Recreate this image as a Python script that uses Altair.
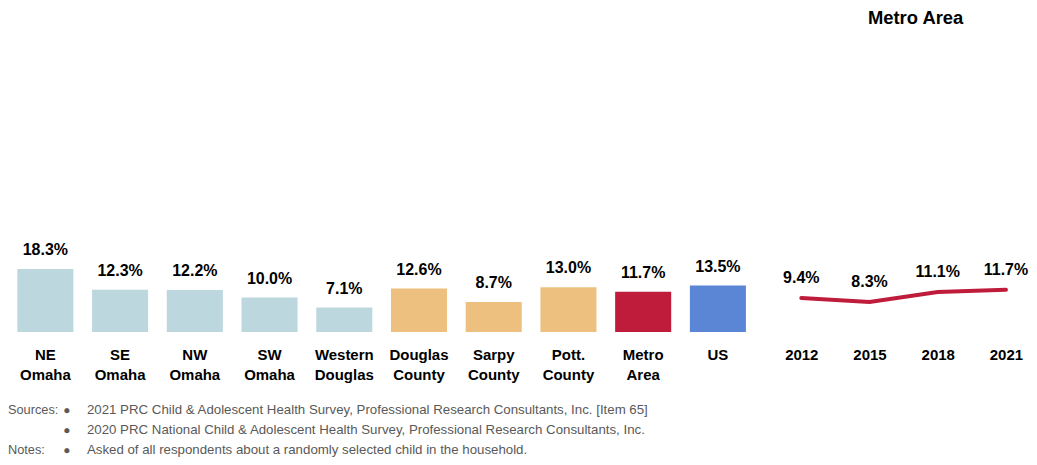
import altair as alt
import pandas as pd

FONT = "Liberation Sans, Arial, sans-serif"

# ---- data ----
categories = ["NE Omaha", "SE Omaha", "NW Omaha", "SW Omaha", "Western Douglas",
              "Douglas County", "Sarpy County", "Pott. County", "Metro Area", "US"]
values = [18.3, 12.3, 12.2, 10.0, 7.1, 12.6, 8.7, 13.0, 11.7, 13.5]
groups = ["Area", "Area", "Area", "Area", "Area", "County", "County", "County", "Metro", "US"]
group_names = ["Area", "County", "Metro", "US"]
group_colors = ["#BDD7DE", "#EDC080", "#BE1C3A", "#5B86D6"]

years = ["2012", "2015", "2018", "2021"]
trend = [9.4, 8.3, 11.1, 11.7]
trend_title = "Metro Area"

note_labels = ["Sources:", "", "Notes:"]
note_texts = [
    "2021 PRC Child & Adolescent Health Survey, Professional Research Consultants, Inc. [Item 65]",
    "2020 PRC National Child & Adolescent Health Survey, Professional Research Consultants, Inc.",
    "Asked of all respondents about a randomly selected child in the household.",
]

bars_df = pd.DataFrame({"category": categories, "value": values, "group": groups})
line_df = pd.DataFrame({"year": years, "value": trend})
notes_df = pd.DataFrame({"row": list(range(len(note_texts))), "label": note_labels,
                         "text": note_texts, "bullet": ["●"] * len(note_texts)})

PLOT_H = 280
BAR_PX_PER_PCT = 3.44
LINE_PX_PER_PCT = 3.6

axis_style = dict(labelAngle=0, ticks=False, domain=False, grid=False, title=None,
                  labelFont=FONT, labelFontSize=15, labelFontWeight="bold",
                  labelColor="black", labelPadding=16, labelLineHeight=20,
                  labelBaseline="top")

# ---- bars ----
bbase = alt.Chart(bars_df).transform_calculate(
    lbl="format(datum.value, '.1f') + '%'"
)
bx = alt.X("category:N", sort=categories,
           scale=alt.Scale(paddingInner=0.25, paddingOuter=0.125),
           axis=alt.Axis(labelExpr="split(datum.label, ' ')", **axis_style))
by = alt.Y("value:Q", scale=alt.Scale(domain=[0, PLOT_H / BAR_PX_PER_PCT], nice=False),
           axis=None)
bars = bbase.mark_bar().encode(
    x=bx, y=by,
    color=alt.Color("group:N", scale=alt.Scale(domain=group_names, range=group_colors),
                    legend=None),
)
blabels = bbase.mark_text(baseline="bottom", dy=-11, font=FONT, fontSize=16,
                          fontWeight="bold", color="black").encode(
    x=bx, y=by, text="lbl:N")
bar_chart = alt.layer(bars, blabels).properties(width=748, height=PLOT_H)

# ---- trend line ----
lbase = alt.Chart(line_df).transform_calculate(
    lbl="format(datum.value, '.1f') + '%'"
)
lx = alt.X("year:O", sort=years, scale=alt.Scale(type="point", padding=0.25),
           axis=alt.Axis(**axis_style))
ly = alt.Y("value:Q", scale=alt.Scale(domain=[0, PLOT_H / LINE_PX_PER_PCT], nice=False),
           axis=None)
line = lbase.mark_line(color="#BE1C3A", strokeWidth=4, strokeCap="round").encode(x=lx, y=ly)
llabels = lbase.mark_text(baseline="bottom", dy=-12, font=FONT, fontSize=16,
                          fontWeight="bold", color="black").encode(
    x=lx, y=ly, text="lbl:N")
line_chart = alt.layer(line, llabels).properties(
    width=239, height=PLOT_H,
    title=alt.Title(trend_title, font=FONT, fontSize=18.4, fontWeight="bold",
                    color="black", anchor="middle", dx=12, offset=25),
)

# ---- footnotes ----
ny = alt.Y("row:O", scale=alt.Scale(type="point", padding=0), axis=None)
nbase = alt.Chart(notes_df)
n_label = nbase.mark_text(align="left", baseline="middle", font=FONT, fontSize=12.8,
                          color="#595959").encode(y=ny, x=alt.value(0), text="label:N")
n_bullet = nbase.mark_text(align="center", baseline="middle", font=FONT, fontSize=12,
                           color="#595959").encode(y=ny, x=alt.value(59), text="bullet:N")
n_text = nbase.mark_text(align="left", baseline="middle", font=FONT, fontSize=13.3,
                         color="#595959").encode(y=ny, x=alt.value(79), text="text:N")
notes = alt.layer(n_label, n_bullet, n_text).properties(width=700, height=40)

top = alt.hconcat(bar_chart, line_chart, spacing=29, bounds="flush")
chart = alt.vconcat(top, notes, spacing=20).properties(
    padding={"left": 0, "top": 0, "right": 0, "bottom": 0}
).configure_view(stroke=None)

chart.save("out.html", embed_options={"renderer": "svg", "actions": False})
